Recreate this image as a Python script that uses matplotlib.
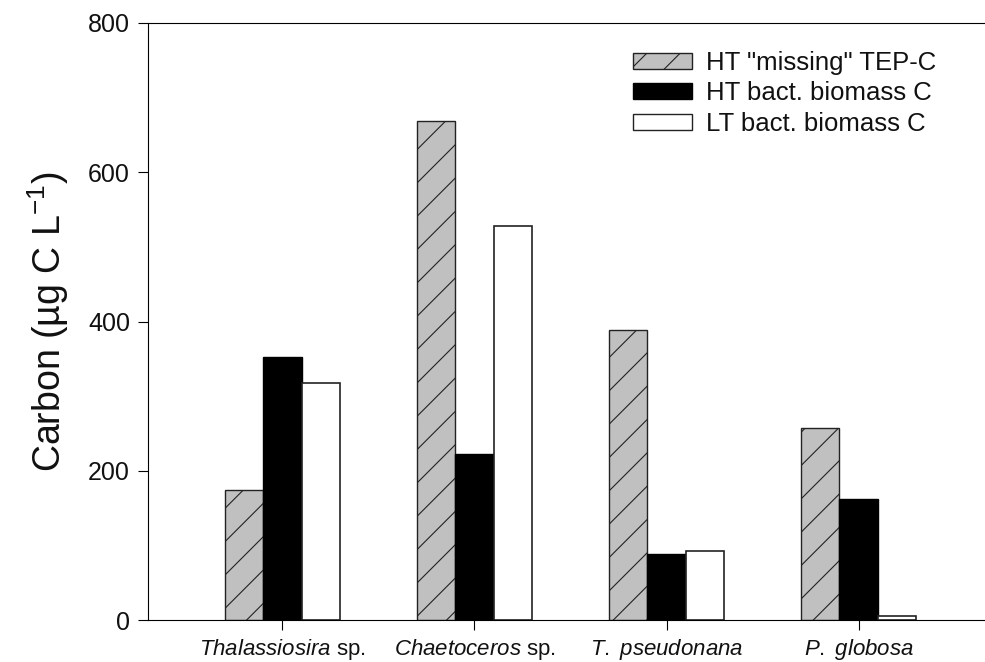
import numpy as np
import matplotlib.pyplot as plt
from matplotlib.patches import Patch

plt.rcParams['font.family'] = ['Liberation Sans', 'DejaVu Sans']
plt.rcParams['mathtext.fontset'] = 'custom'
plt.rcParams['mathtext.rm'] = 'Liberation Sans'
plt.rcParams['mathtext.it'] = 'Liberation Sans:italic'
plt.rcParams['hatch.linewidth'] = 0.8

species = [r'$\mathit{Thalassiosira}$ sp.', r'$\mathit{Chaetoceros}$ sp.',
           r'$\mathit{T.\ pseudonana}$', r'$\mathit{P.\ globosa}$']
ht_missing_tep = [174, 669, 388, 257]
ht_bact = [352, 222, 89, 162]
lt_bact = [318, 528, 93, 6]

x = np.arange(len(species))
w = 0.2

fig = plt.figure(figsize=(9.85, 6.62), dpi=100)
ax = fig.add_axes([148/985, 1 - 620/662, (993 - 148)/985, (620 - 23)/662])

ax.bar(x - w, ht_missing_tep, w, color='#c0c0c0', edgecolor='#222222',
       hatch='/', linewidth=1.0)
ax.bar(x, ht_bact, w, color='black', edgecolor='black', linewidth=1.0)
ax.bar(x + w, lt_bact, w, color='white', edgecolor='#222222', linewidth=1.2)

ax.set_xlim(-0.7, 3.7)
ax.set_ylim(0, 800)
ax.set_yticks([0, 200, 400, 600, 800])
ax.set_xticks(x)
ax.set_xticklabels(species, fontsize=16, color='#111111')
ax.tick_params(axis='y', labelsize=18, labelcolor='#111111', direction='out', length=7, pad=6)
ax.tick_params(axis='x', direction='out', length=7, pad=5)
ax.spines['right'].set_visible(False)
ax.set_ylabel(u'Carbon (\u00b5g C L$^{-1}$)', fontsize=27, labelpad=12, color='#111111')

handles = [Patch(facecolor='#c0c0c0', edgecolor='#222222', hatch='/', label='HT "missing" TEP-C'),
           Patch(facecolor='black', edgecolor='black', label='HT bact. biomass C'),
           Patch(facecolor='white', edgecolor='#222222', label='LT bact. biomass C')]
fig.legend(handles=handles, loc='upper left', bbox_to_anchor=(633/985, 1 - 51/662),
           frameon=False, fontsize=18.5, handlelength=2.3, handleheight=0.58,
           handletextpad=0.55, labelspacing=0.25, borderpad=0, borderaxespad=0,
           labelcolor='#111111')

fig.savefig('out.png', dpi=100)
